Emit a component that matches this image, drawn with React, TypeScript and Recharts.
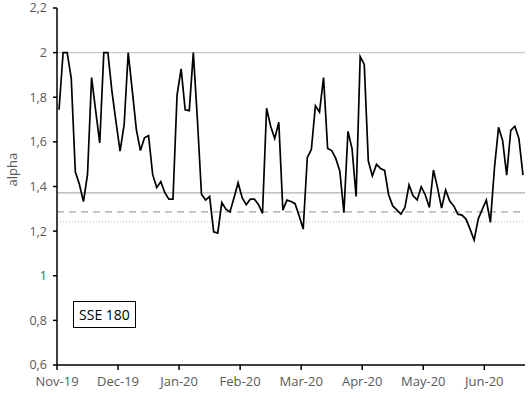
import React from 'react';
import { LineChart, Line, XAxis, YAxis, ReferenceLine } from 'recharts';

// month labels shown every 15 observations
const MONTHS = ['Nov-19', 'Dec-19', 'Jan-20', 'Feb-20', 'Mar-20', 'Apr-20', 'May-20', 'Jun-20'];
const OBS_PER_TICK = 15;

const ALPHA = [
    1.744, 2.0, 2.0, 1.885, 1.466, 1.41, 1.332, 1.454, 1.888, 1.74,
    1.595, 2.0, 2.0, 1.826, 1.69, 1.558, 1.677, 2.0, 1.83, 1.655,
    1.561, 1.618, 1.628, 1.454, 1.395, 1.422, 1.372, 1.343, 1.343, 1.81,
    1.927, 1.744, 1.74, 2.0, 1.7, 1.365, 1.339, 1.355, 1.197, 1.191,
    1.328, 1.298, 1.286, 1.35, 1.417, 1.35, 1.318, 1.343, 1.343, 1.32,
    1.28, 1.751, 1.67, 1.615, 1.688, 1.294, 1.339, 1.333, 1.323, 1.269,
    1.209, 1.529, 1.566, 1.762, 1.734, 1.888, 1.57, 1.561, 1.526, 1.469,
    1.283, 1.647, 1.57, 1.355, 1.982, 1.947, 1.514, 1.447, 1.499, 1.481,
    1.472, 1.362, 1.313, 1.295, 1.276, 1.306, 1.407, 1.358, 1.34, 1.399,
    1.362, 1.306, 1.474, 1.395, 1.303, 1.384, 1.335, 1.313, 1.276, 1.272,
    1.254, 1.209, 1.16, 1.254, 1.298, 1.339, 1.239, 1.484, 1.665, 1.606,
    1.451, 1.651, 1.67, 1.615, 1.451,
];

const Y_TICKS = [0.6, 0.8, 1.0, 1.2, 1.4, 1.6, 1.8, 2.0, 2.2];
const MEAN_LINE = 1.371;
const DASHED_LINE = 1.2865;
const DOTTED_LINE = 1.242;

const data = ALPHA.map((alpha, i) => ({ i, alpha }));
const xTicks = MONTHS.map((_, k) => k * OBS_PER_TICK - 0.5);

const GRAY_TEXT = '#595959';
const FONT = "'Open Sans', 'Noto Sans', sans-serif";

const fmtY = (v: number) => String(Number(v.toFixed(1))).replace('.', ',');
const fmtX = (v: number) => MONTHS[Math.round((v + 0.5) / OBS_PER_TICK)] ?? '';

export default function App() {
    return (
        <div style={{ position: 'relative', width: 530, height: 395, background: '#fff', fontFamily: FONT }}>
            <style>{`body{margin:0}`}</style>
            <LineChart width={530} height={395} data={data} margin={{ top: 8, right: 5, bottom: 0, left: 0 }}>
                <XAxis
                    dataKey="i"
                    type="number"
                    domain={[-0.5, ALPHA.length - 0.5]}
                    ticks={xTicks}
                    tickFormatter={fmtX}
                    interval={0}
                    height={30}
                    tickSize={5}
                    tickMargin={7}
                    axisLine={{ stroke: '#000', strokeWidth: 1.5 }}
                    tickLine={{ stroke: '#000', strokeWidth: 1.5 }}
                    tick={{ fill: GRAY_TEXT, fontSize: 13, fontFamily: FONT }}
                />
                <XAxis xAxisId="top" orientation="top" dataKey="i" type="number"
                    domain={[-0.5, ALPHA.length - 0.5]} height={0} tick={false} tickLine={false}
                    axisLine={{ stroke: '#000', strokeWidth: 1.5 }} />
                <YAxis
                    domain={[0.6, 2.2]}
                    ticks={Y_TICKS}
                    tickFormatter={fmtY}
                    interval={0}
                    width={57}
                    tickSize={4}
                    tickMargin={6}
                    axisLine={{ stroke: '#000', strokeWidth: 1.5 }}
                    tickLine={{ stroke: '#000', strokeWidth: 1.5 }}
                    tick={{ fill: GRAY_TEXT, fontSize: 12.5, fontFamily: FONT }}
                    label={{ value: 'alpha', angle: -90, position: 'insideLeft', offset: 12, fill: GRAY_TEXT, fontSize: 13, fontFamily: FONT }}
                />
                <YAxis yAxisId="right" orientation="right" domain={[0.6, 2.2]} width={0}
                    tick={false} tickLine={false} axisLine={{ stroke: '#595959', strokeWidth: 1.5 }} />
                <ReferenceLine y={2.0} stroke="#c8c8c8" strokeWidth={1.2} />
                <ReferenceLine y={MEAN_LINE} stroke="#b0b0b0" strokeWidth={1.2} />
                <ReferenceLine y={DASHED_LINE} stroke="#a6a6a6" strokeWidth={1.2} strokeDasharray="7 5" />
                <ReferenceLine y={DOTTED_LINE} stroke="#b8b8b8" strokeWidth={1} strokeDasharray="1 2" />
                <Line
                    type="linear"
                    dataKey="alpha"
                    stroke="#000"
                    strokeWidth={1.7}
                    dot={false}
                    isAnimationActive={false}
                />
            </LineChart>
            <div style={{
                position: 'absolute', left: 73, top: 301, width: 61, height: 25,
                border: '1px solid #000', background: '#fff', display: 'flex',
                alignItems: 'center', justifyContent: 'center', fontSize: 14, color: '#000',
            }}>
                SSE 180
            </div>
        </div>
    );
}
